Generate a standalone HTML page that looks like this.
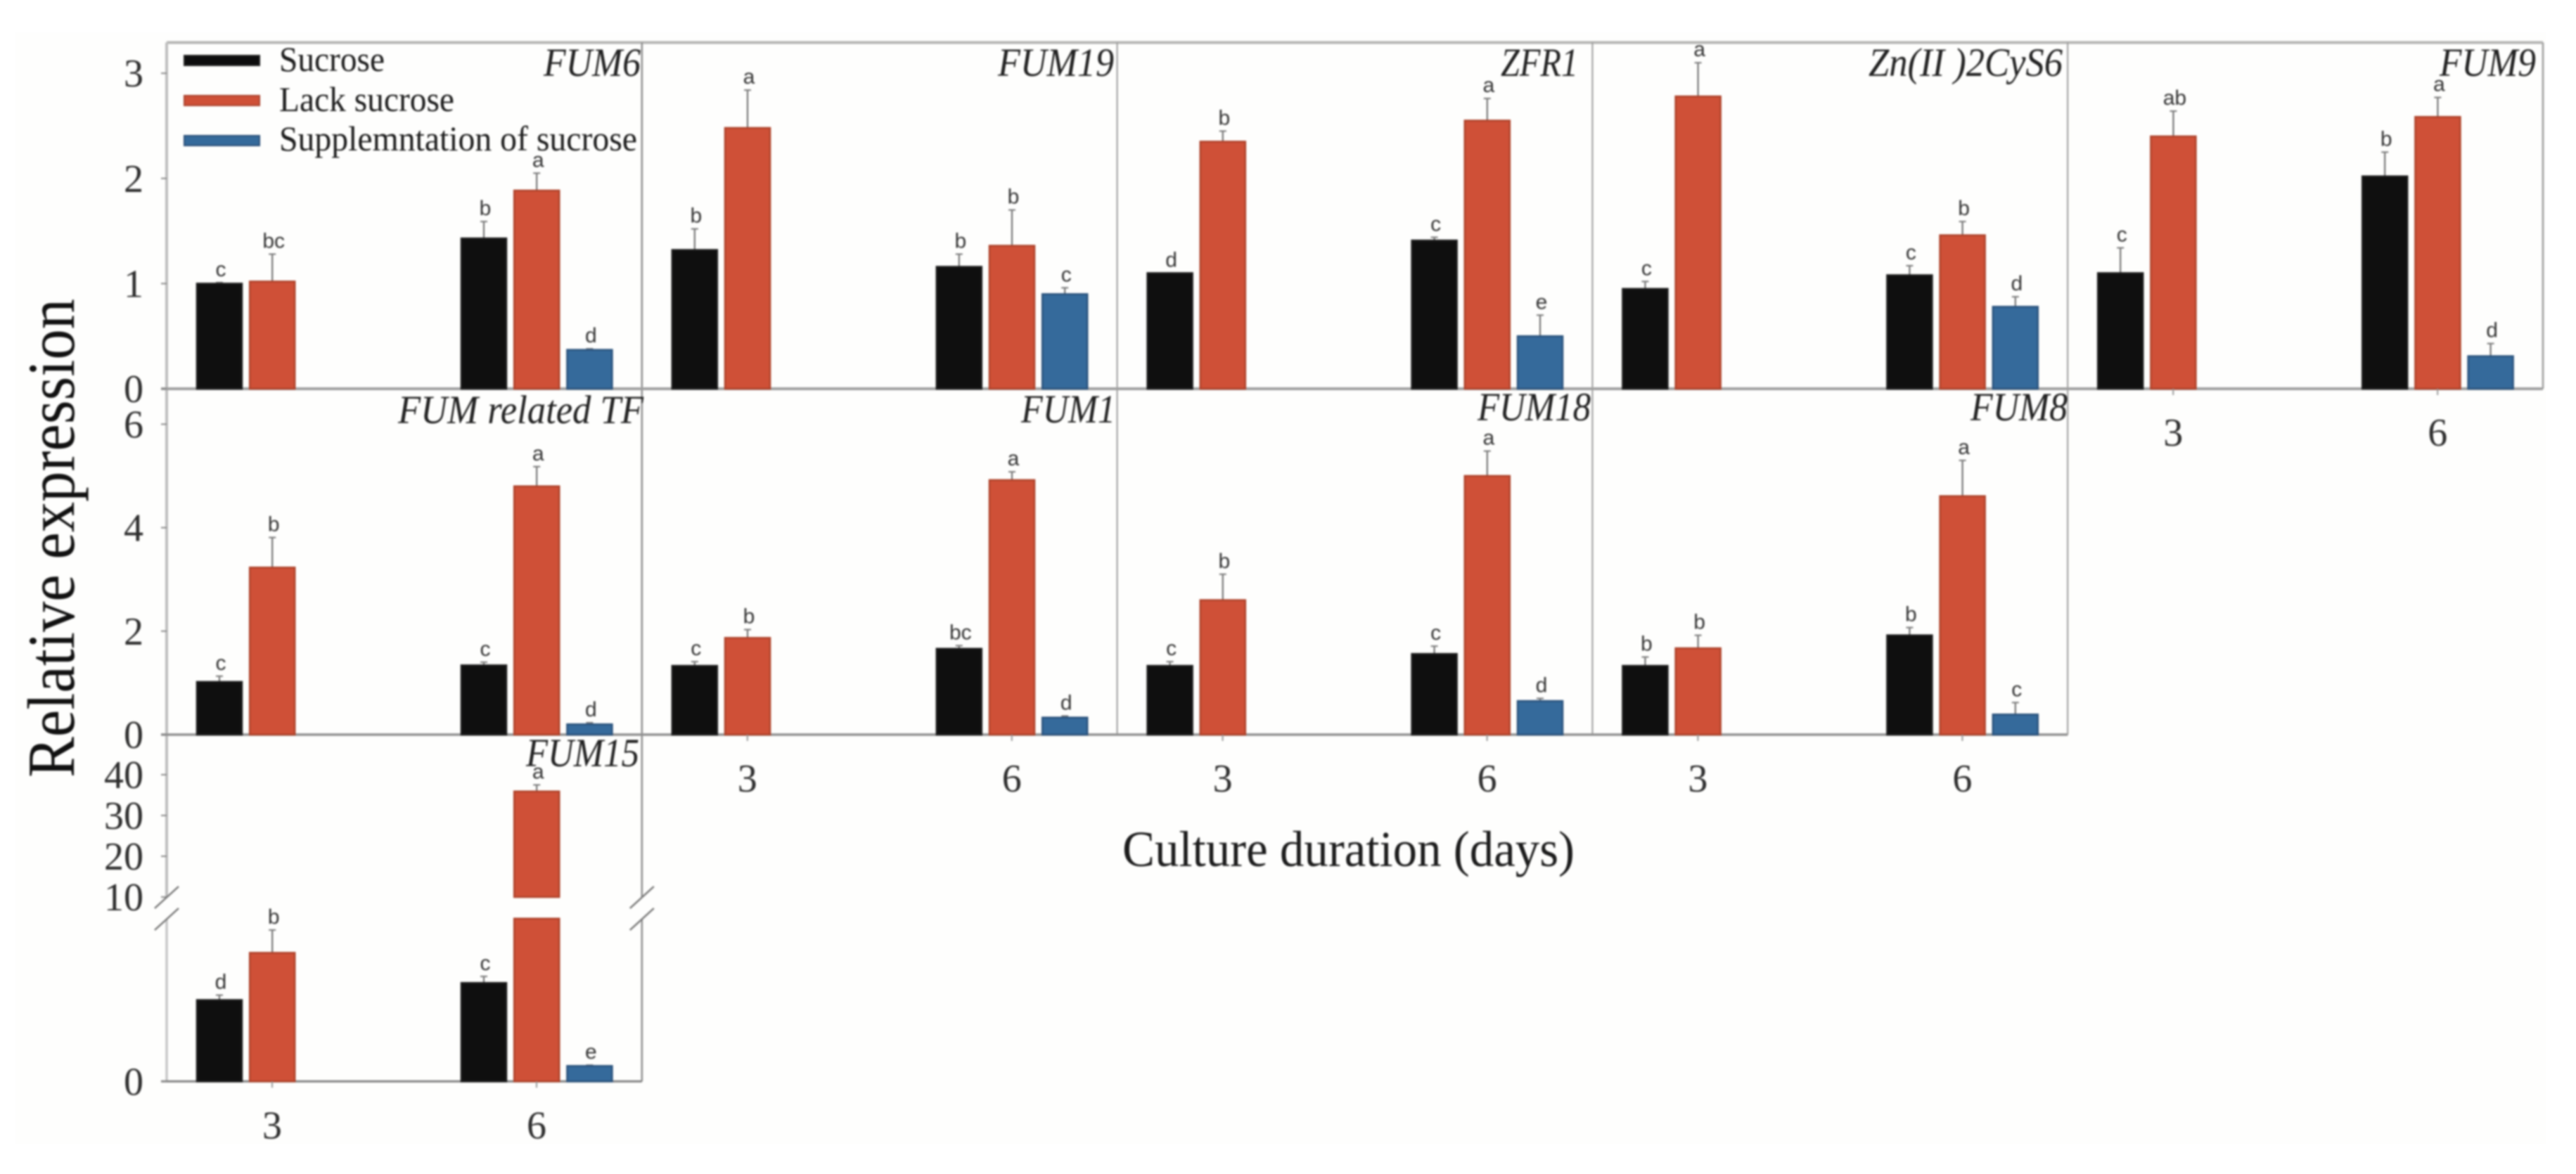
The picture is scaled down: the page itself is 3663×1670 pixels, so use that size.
<!DOCTYPE html>
<html lang="en">
<head>
<meta charset="utf-8">
<title>Relative expression of FUM genes</title>
<style>
html,body{margin:0;padding:0;background:#fff;}
#chart{display:block;width:3663px;height:1670px;}
#plot{filter:blur(1.3px);}
text{font-family:"Liberation Serif",serif;}
.tick-label{font-size:56px;fill:#2e2e2e;}
.gene{font-size:57px;font-style:italic;fill:#222;text-anchor:end;}
.legend-text{font-size:50px;fill:#1c1c1c;}
.sig{font-family:"Liberation Sans",sans-serif;font-size:30px;fill:#333;text-anchor:middle;}
</style>
</head>
<body>
<svg id="chart" xmlns="http://www.w3.org/2000/svg" width="3663" height="1670" viewBox="0 0 3663 1670">
  <rect x="0" y="0" width="3663" height="1670" fill="#ffffff"/>
  <rect x="22" y="46" width="3598" height="1581" fill="#fefefd"/>
  <g id="plot">
    <g id="marks"></g>

    <text class="gene" x="911" y="108" textLength="138" lengthAdjust="spacingAndGlyphs">FUM6</text>
    <text class="gene" x="1584" y="108" textLength="165" lengthAdjust="spacingAndGlyphs">FUM19</text>
    <text class="gene" x="2244" y="108" textLength="110" lengthAdjust="spacingAndGlyphs">ZFR1</text>
    <text class="gene" x="2933" y="108" textLength="276" lengthAdjust="spacingAndGlyphs">Zn(II )2CyS6</text>
    <text class="gene" x="3606" y="108" textLength="137" lengthAdjust="spacingAndGlyphs">FUM9</text>
    <text class="gene" x="915" y="602" textLength="349" lengthAdjust="spacingAndGlyphs">FUM related TF</text>
    <text class="gene" x="1586" y="601" textLength="134" lengthAdjust="spacingAndGlyphs">FUM1</text>
    <text class="gene" x="2262" y="598" textLength="161" lengthAdjust="spacingAndGlyphs">FUM18</text>
    <text class="gene" x="2940" y="598" textLength="138" lengthAdjust="spacingAndGlyphs">FUM8</text>
    <text class="gene" x="909" y="1090" textLength="161" lengthAdjust="spacingAndGlyphs">FUM15</text>

    <g>
      <rect x="262" y="79" width="107" height="14" fill="#0d0d0d" stroke="#222" stroke-width="2"/>
      <text class="legend-text" x="397" y="101" textLength="150" lengthAdjust="spacingAndGlyphs">Sucrose</text>
      <rect x="262" y="136" width="107" height="14" fill="#cf5037" stroke="#a9432e" stroke-width="2"/>
      <text class="legend-text" x="397" y="158" textLength="249" lengthAdjust="spacingAndGlyphs">Lack sucrose</text>
      <rect x="262" y="193" width="107" height="14" fill="#356a9b" stroke="#2b4f78" stroke-width="2"/>
      <text class="legend-text" x="397" y="214" textLength="509" lengthAdjust="spacingAndGlyphs">Supplemntation of sucrose</text>
    </g>

    <text transform="translate(105 1106) rotate(-90)" font-size="95" fill="#111" textLength="681" lengthAdjust="spacingAndGlyphs">Relative expression</text>
    <text x="1596" y="1232" font-size="72" fill="#1c1c1c" textLength="643" lengthAdjust="spacingAndGlyphs">Culture duration (days)</text>
  </g>
</svg>
<script>
// ---- chart data (panel order follows genes[]) ----
const genes = ['FUM6','FUM19','ZFR1','Zn(II)2CyS6','FUM9','FUM related TF','FUM1','FUM18','FUM8','FUM15'];
const categories = ['3','6'];

const sucroseMeans = [[1.00,1.43],[1.32,1.16],[1.10,1.41],[0.95,1.08],[1.10,2.02],[1.02,1.34],[1.33,1.66],[1.33,1.56],[1.33,1.92],[1.00,1.21]];
const lackMeans    = [[1.02,1.885],[2.48,1.36],[2.35,2.55],[2.78,1.46],[2.40,2.585],[3.23,4.80],[1.87,4.92],[2.60,5.00],[1.67,4.61],[1.58,35.9]];
const suppMeans    = [[null,0.37],[null,0.90],[null,0.50],[null,0.78],[null,0.31],[null,0.20],[null,0.33],[null,0.65],[null,0.39],[null,0.19]];

const sucroseErrTop = [[1.01,1.59],[1.52,1.28],[1.10,1.44],[1.02,1.17],[1.34,2.25],[1.13,1.40],[1.41,1.72],[1.41,1.71],[1.50,2.07],[1.06,1.29]];
const lackErrTop    = [[1.28,2.05],[2.84,1.70],[2.45,2.76],[3.10,1.59],[2.64,2.77],[3.81,5.18],[2.03,5.08],[3.10,5.48],[1.92,5.30],[1.86,37.5]];
const suppErrTop    = [[null,0.38],[null,0.96],[null,0.70],[null,0.875],[null,0.43],[null,0.23],[null,0.36],[null,0.70],[null,0.62],[null,0.20]];

const sucroseLetters = [['c','b'],['b','b'],['d','c'],['c','c'],['c','b'],['c','c'],['c','bc'],['c','c'],['b','b'],['d','c']];
const lackLetters    = [['bc','a'],['a','b'],['b','a'],['a','b'],['ab','a'],['b','a'],['b','a'],['b','a'],['b','a'],['b','a']];
const suppLetters    = [[null,'d'],[null,'c'],[null,'e'],[null,'d'],[null,'d'],[null,'d'],[null,'d'],[null,'d'],[null,'c'],[null,'e']];

const row0Ticks = [0,1,2,3];
const row1Ticks = [0,2,4,6];
const row2UpperTicks = [10,20,30,40];
const row2LowerTicks = [0];

// ---- scales / layout ----
const SVGNS = 'http://www.w3.org/2000/svg';
const root = document.getElementById('marks');
const colors = {
  sucrose:{fill:'#0f0f0f',stroke:'#1c1c1c'},
  lack:{fill:'#cf5037',stroke:'#ad4129'},
  supp:{fill:'#356a9b',stroke:'#2a527c'}
};
const colWidth = 675.8;
const left0 = 237;
const figTop = 60.5;
const baselines = [553, 1045, 1538.3];
const breakLow = 2;      // top of lower segment of broken axis
const breakHigh = 10;    // bottom of upper segment

function colX(c){ return left0 + c*colWidth; }
function rowOf(i){ return i<5 ? 0 : (i<9 ? 1 : 2); }
function colOf(i){ return i<5 ? i : (i<9 ? i-5 : 0); }

function yScale(row, v){
  if(row===0) return baselines[0] - v*149.6;
  if(row===1) return baselines[1] - v*73.6;
  if(v<=breakLow) return baselines[2] - v*115.8;
  return 1276 - (Math.max(v,breakHigh)-breakHigh)*5.8;
}
function groupCenter(g){ return 150 + g*376; }            // offset of category g from panel left
function barLeft(g, s){ return groupCenter(g) - 107 + s*75.2; }
const barW = 64;

function mk(tag, attrs, parent){
  const el = document.createElementNS(SVGNS, tag);
  for(const k in attrs) el.setAttribute(k, attrs[k]);
  (parent||root).appendChild(el);
  return el;
}
function line(x1,y1,x2,y2,stroke,w,name){
  const el = mk('line',{x1:x1,y1:y1,x2:x2,y2:y2,stroke:stroke,'stroke-width':w});
  
  
  return el;
}
function label(txt,x,y,cls,anchor,name){
  const el = mk('text',{x:x,y:y,'class':cls});
  if(anchor) el.setAttribute('text-anchor',anchor);
  el.textContent = txt;
  
  
  return el;
}

// ---- frame lines ----
line(left0, figTop, colX(5), figTop, '#b4b4b2', 4, 'top-border');
line(left0, figTop, left0, 1276, '#bdbdbd', 4, 'left-axis-line-upper');
line(left0, 1307, left0, baselines[2], '#c6c6c6', 3.5, 'left-axis-line-lower');
line(colX(1), figTop, colX(1), 1276, '#8d8d8d', 2.5, 'panel-divider-1');
line(colX(1), 1307, colX(1), baselines[2], '#8d8d8d', 2.5, 'panel-divider-1-lower');
line(colX(2), figTop, colX(2), baselines[1], '#9a9a9a', 2, 'panel-divider-2');
line(colX(3), figTop, colX(3), baselines[1], '#9a9a9a', 2, 'panel-divider-3');
line(colX(4), figTop, colX(4), baselines[1], '#9a9a9a', 2, 'panel-divider-4');
line(colX(5), figTop, colX(5), baselines[0], '#9a9a9a', 2.5, 'right-border');
line(left0-8, baselines[0], colX(5), baselines[0], '#9f9f9f', 4, 'row-1-baseline');
line(left0-8, baselines[1], colX(4), baselines[1], '#8f8f8f', 3.5, 'row-2-baseline');
line(left0-8, baselines[2], colX(1), baselines[2], '#7f7f7f', 3, 'row-3-baseline');

// ---- y ticks ----
function yTicks(row, ticks){
  ticks.forEach(function(t){
    const y = yScale(row,t);
    line(left0-8, y, left0, y, '#888', 2, 'y-tick');
    label(String(t), 204, y+19, 'tick-label', 'end', 'y-tick-label');
  });
}
yTicks(0,row0Ticks);
yTicks(1,row1Ticks);
yTicks(2,row2UpperTicks);
yTicks(2,row2LowerTicks);

// ---- axis break marks ----
[0,1].forEach(function(side){
  const x = colX(side);
  line(x-17,1292,x+17,1261,'#777',2.5,'axis-break-upper');
  line(x-17,1323,x+17,1292,'#777',2.5,'axis-break-lower');
});

// ---- panels ----
const seriesList = [
  {key:'sucrose', means:sucroseMeans, err:sucroseErrTop, letters:sucroseLetters},
  {key:'lack', means:lackMeans, err:lackErrTop, letters:lackLetters},
  {key:'supp', means:suppMeans, err:suppErrTop, letters:suppLetters}
];

genes.forEach(function(gene, i){
  const row = rowOf(i);
  const x0 = colX(colOf(i));
  const base = baselines[row];
  seriesList.forEach(function(sr, s){
    categories.forEach(function(cat, g){
      const v = sr.means[i][g];
      if(v===null) return;
      const c = colors[sr.key];
      const bx = x0 + barLeft(g,s);
      const cx = bx + barW/2;
      // error bar
      const e = sr.err[i][g];
      const ey = yScale(row,e);
      const vy = yScale(row,v);
      line(cx,vy,cx,ey,'#666',2,'error-bar');
      line(cx-5,ey,cx+5,ey,'#777',2,'error-cap');
      // bar (split in two segments on the broken axis)
      if(row===2 && v>breakLow){
        const up = mk('rect',{x:bx,y:vy,width:barW,height:yScale(row,breakHigh)-vy,fill:c.fill,stroke:c.stroke,'stroke-width':2.5});
        
        
        const ty = yScale(row,breakLow);
        const low = mk('rect',{x:bx,y:ty,width:barW,height:base-ty,fill:c.fill,stroke:c.stroke,'stroke-width':2.5});
        
        
      } else {
        const r = mk('rect',{x:bx,y:vy,width:barW,height:base-vy,fill:c.fill,stroke:c.stroke,'stroke-width':2.5});
        
        
      }
      // significance letter
      label(sr.letters[i][g], cx+2, ey-9, 'sig', null, 'significance-letter');
    });
  });
});

// ---- x ticks / category labels under the lowest panel of each column ----
[[0,4],[1,1],[1,2],[1,3],[2,0]].forEach(function(rc){
  const x0 = colX(rc[1]);
  const base = baselines[rc[0]];
  categories.forEach(function(cat,g){
    const x = x0 + groupCenter(g);
    line(x, base, x, base+9, '#999', 2, 'x-tick');
    label(cat, x, base+81, 'tick-label', 'middle', 'x-tick-label');
  });
});
</script>
</body>
</html>
